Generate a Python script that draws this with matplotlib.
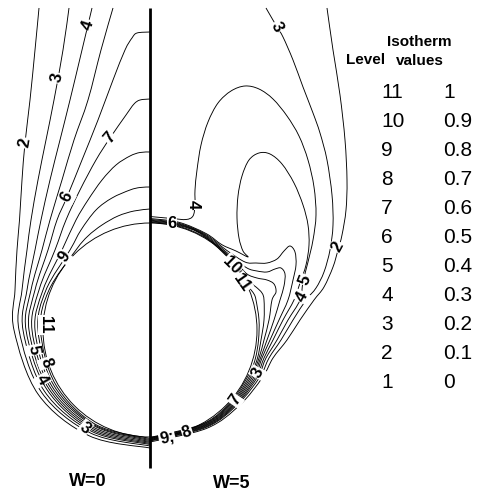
import numpy as np
import matplotlib.pyplot as plt
from matplotlib.path import Path
from matplotlib.patches import PathPatch, Circle

R = 107.0  # cylinder radius in the units the isotherms were traced in

levels = [11, 10, 9, 8, 7, 6, 5, 4, 3, 2, 1]
iso_values = ["1", "0.9", "0.8", "0.7", "0.6", "0.5", "0.4", "0.3", "0.2", "0.1", "0"]

# W=0 (left half) isotherms, (x, y) measured from the cylinder centre
w0_lvl10 = [(0, -108.5), (-54.5, -94.4), (-94.4, -54.5), (-109.5, 0), (-101, 40), (-74, 80),
            (-62, 94), (-48, 105), (-32, 114), (-16, 119), (0, 121)]
w0_lvl9 = [(0, -109.5), (-55, -95.3), (-96.1, -55.5), (-112, 0), (-104, 40), (-80, 80), (-69, 100),
           (-54, 120), (-38, 132), (-20, 140), (-10, 142.5), (0, 143)]
w0_lvl8 = [(0, -110.5), (-55.5, -96.1), (-97.9, -56.5), (-115, 0), (-107, 40), (-88, 80), (-74, 110),
           (-62, 130), (-48, 150), (-34, 165), (-20, 174), (-10, 177.5), (0, 178)]
w0_lvl7 = [(0, -111.5), (-56.3, -97.4), (-99.6, -57.5), (-118, 0), (-111, 40), (-95, 80), (-84, 110),
           (-70, 140), (-54, 170), (-40, 192), (-24, 215), (-16, 226), (-10, 230), (0, 231)]
w0_lvl6 = [(0, -112.5), (-57, -98.7), (-101.3, -58.5), (-121, 0), (-115, 40), (-102, 80), (-93, 110),
           (-83, 133), (-68, 170), (-52, 210), (-37, 250), (-25, 280), (-18, 292), (-13, 297), (0, 298)]
w0_lvl5 = [(0, -113.5), (-57.8, -100), (-103.1, -59.5), (-124, 0), (-119, 40), (-108, 80), (-100, 110),
           (-88, 150), (-76, 190), (-62, 230), (-49, 280), (-37, 322)]
w0_lvl4 = [(0, -114.5), (-58.5, -101.3), (-105.7, -61), (-127, 0), (-123, 40), (-115, 80), (-109, 110),
           (-100, 150), (-90, 190), (-80, 230), (-68, 280), (-58, 322)]
w0_lvl3 = [(0, -116), (-59.5, -103), (-108.3, -62.5), (-131, 0), (-128, 40), (-123, 80), (-119, 110),
           (-112, 150), (-104, 190), (-96, 230), (-87, 280), (-81, 322)]
w0_lvl2 = [(0, -118), (-61, -105.7), (-111.7, -64.5), (-136, 0), (-135, 40), (-133, 80), (-130.5, 110),
           (-128, 150), (-125, 187), (-120, 230), (-115, 280), (-111, 322)]

# W=5 (right half) isotherms
w5_lvl10 = [(0, -107.5), (53.9, -93.3), (82.7, -69.4), (99.9, -42.4), (105.5, -28), (108.5, -10),
            (109, 10), (106, 30), (104, 36), (99, 43), (93.3, 53.8), (76.2, 76.2), (53.9, 93.3),
            (27.9, 104), (0, 107.7)]
w5_lvl9 = [(0, -108), (54.2, -93.8), (83.5, -70.1), (101.3, -43), (107.5, -28), (111, -10), (114, 10),
           (114, 30), (112, 37), (106, 43), (98, 49), (89.9, 60.6), (54.2, 93.9), (28.1, 104.7), (0, 108.4)]
w5_lvl8 = [(0, -108.5), (54.5, -94.4), (84.3, -70.7), (102.6, -43.6), (109, -28), (114, -10), (119, 10),
           (122, 30), (126, 38), (124, 46), (117, 50), (107, 52), (97, 56), (86, 67.2), (54.6, 94.5),
           (28.3, 105.4), (0, 109.1)]
w5_lvl7 = [(0, -109), (54.9, -95), (85, -71.4), (104, -44.1), (110.5, -28), (117, -10), (124, 10),
           (130, 30), (134, 44), (135, 56), (131, 62), (125, 61), (117, 58), (107, 59), (97, 62),
           (81.6, 73.5), (54.9, 95.1), (28.4, 106.1), (0, 109.8)]
w5_lvl6 = [(0, -109.5), (55.2, -95.5), (85.8, -72), (105.4, -44.7), (112, -28), (120, -10), (129, 10),
           (138, 30), (143, 50), (146, 65), (145, 78), (140, 84), (134, 79), (127, 71), (117, 67),
           (106, 67), (95, 68), (76.9, 79.5), (55.3, 95.8), (28.6, 106.8), (0, 110.6)]
w5_lvl5 = [(0, -110), (55.5, -96.1), (86.6, -72.7), (106.8, -45.3), (114, -28), (123, -10), (133, 10),
           (144, 30), (150, 47), (156, 65), (159, 85), (158, 105), (153, 125), (144, 147), (132, 166),
           (120, 176), (109, 177), (99, 170), (92, 154), (88, 134), (87, 112), (89, 92), (93, 79),
           (98, 73), (86, 79), (71.7, 85.4), (55.8, 96.6), (28.9, 107.7), (0, 111.5)]
w5_lvl4 = [(0, -110.5), (55.9, -96.7), (87.3, -73.3), (108.2, -45.9), (116, -28), (127, -10), (138, 10),
           (150, 30), (153, 48), (158, 68), (163, 90), (166, 115), (164, 143), (158, 170), (149, 194),
           (137, 214), (123, 231), (109, 241), (95, 244), (81, 239), (68, 227), (58, 208), (51, 185),
           (47, 160), (45, 140), (45, 125), (43, 114), (36, 110.5), (22, 111.5), (0, 113.5)]
w5_lvl3 = [(0, -111), (56.2, -97.3), (88.1, -73.9), (110, -46.7), (119, -28), (131, -10), (143, 10),
           (156, 30), (166, 42), (174, 58), (180, 80), (183, 105), (182, 135), (177, 170), (170, 197),
           (163, 217), (153, 243), (143, 270), (133, 293), (127, 303), (116, 322)]
w5_lvl2 = [(0, -112), (56.8, -98.3), (89.6, -75.2), (112.3, -47.7), (123, -28), (137, -10), (150, 10),
           (164, 30), (174, 43), (183, 63), (188, 80), (192, 95), (196, 120), (197, 150), (195, 190),
           (190, 235), (183, 280), (177, 322)]

w0_lines = [w0_lvl10, w0_lvl9, w0_lvl8, w0_lvl7, w0_lvl6, w0_lvl5, w0_lvl4, w0_lvl3, w0_lvl2]
w5_lines = [w5_lvl10, w5_lvl9, w5_lvl8, w5_lvl7, w5_lvl6, w5_lvl5, w5_lvl4, w5_lvl3, w5_lvl2]

# contour labels: text, x, y, angle
w0_labels = [("2", -125, 187, 80), ("3", -93, 252, 78), ("4", -62, 305, 72), ("7", -40, 192, 50),
             ("6", -83, 133, 62), ("9", -86, 73, 55), ("11", -104, 5, -90), ("5", -116, -20, -80),
             ("8", -104, -33, -70), ("4", -108, -50, -60), ("3", -65, -98, -38)]
w5_labels = [("3", 127, 303, -62), ("4", 43, 125, -90), ("6", 22, 106, 0), ("10", 82, 65, -45),
             ("11", 92, 47, -55), ("5", 155, 50, 68), ("4", 152, 33, 62), ("2", 188, 83, 62),
             ("3", 108, -43, 62), ("7", 85, -70, 55), ("9;", 17, -108, 12), ("8", 37, -102, 18)]


def smooth_path(pts):
    p = np.asarray(pts, float) / R
    ext = np.vstack([p[0], p, p[-1]])
    verts = [p[0]]
    codes = [Path.MOVETO]
    for i in range(len(p) - 1):
        p0, p1, p2, p3 = ext[i], ext[i + 1], ext[i + 2], ext[i + 3]
        verts += [p1 + (p2 - p0) / 6, p2 - (p3 - p1) / 6, p2]
        codes += [Path.CURVE4] * 3
    return Path(verts, codes)


fig = plt.figure(figsize=(5.0, 4.97), dpi=100)
ax = fig.add_axes([0, 0, 1, 1])
ax.set_xlim(-150 / R, 350 / R)
ax.set_ylim(-167 / R, 330 / R)
ax.set_aspect('equal')
ax.axis('off')

# cylinder surface (level 11)
ax.add_patch(Circle((0, 0), 1.0, fill=False, lw=0.65, color='black'))
for line in w0_lines + w5_lines:
    ax.add_patch(PathPatch(smooth_path(line), fill=False, lw=0.65, edgecolor='black'))

# symmetry line between the two cases
ax.plot([0, 0], [-138 / R, 322 / R], color='black', lw=2.0, solid_capstyle='butt')

for t, x, y, a in w0_labels + w5_labels:
    ax.text(x / R, y / R, t, rotation=a, ha='center', va='center', fontsize=12,
            fontweight='bold', family='Liberation Sans', zorder=5, rotation_mode='anchor',
            bbox=dict(boxstyle='square,pad=0.05', fc='white', ec='none'))

ax.text(-62 / R, -152 / R, "W=0", ha='center', va='center', fontsize=13,
        fontweight='bold', family='Liberation Sans')
ax.text(82 / R, -153 / R, "W=5", ha='center', va='center', fontsize=13,
        fontweight='bold', family='Liberation Sans')

# level / isotherm value table
fig.text(0.731, 0.879, "Level", ha='center', va='center', fontsize=11,
         fontweight='bold', family='Liberation Sans')
fig.text(0.838, 0.915, "Isotherm", ha='center', va='center', fontsize=11,
         fontweight='bold', family='Liberation Sans')
fig.text(0.840, 0.877, "values", ha='center', va='center', fontsize=11,
         fontweight='bold', family='Liberation Sans')
for i, (lv, val) in enumerate(zip(levels, iso_values)):
    yf = 1 - (92 + 29.1 * i) / 497
    fig.text(0.762, yf, str(lv), ha='left', va='center', fontsize=15, family='Liberation Sans')
    fig.text(0.886, yf, val, ha='left', va='center', fontsize=15, family='Liberation Sans')

fig.savefig('out.png', dpi=100)
